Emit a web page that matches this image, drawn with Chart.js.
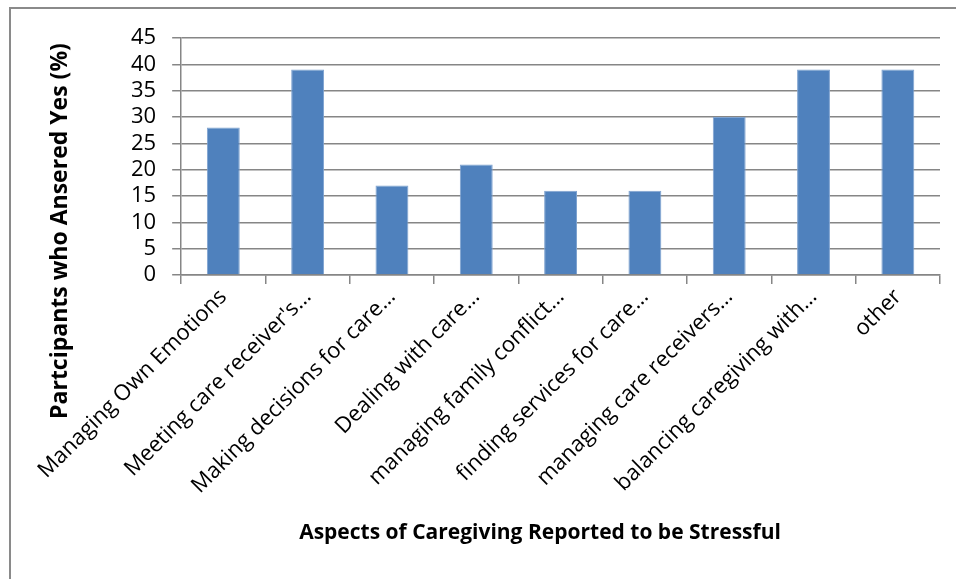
<!DOCTYPE html>
<html>
<head>
<meta charset="utf-8">
<script src="https://cdn.jsdelivr.net/npm/chart.js@4/dist/chart.umd.min.js"></script>
<style>
  html, body { margin: 0; padding: 0; background: #fff; }
  body { width: 956px; height: 579px; position: relative; overflow: hidden; }
  #frame { position: absolute; left: 9px; top: 7px; width: 960px; height: 600px;
           border-left: 2px solid #8a8a8a; border-top: 2px solid #8a8a8a; }
  #wrap { position: absolute; left: 0; top: 0; width: 956px; height: 579px; }
</style>
</head>
<body>
<div id="frame"></div>
<div id="wrap"><canvas id="c" width="956" height="579"></canvas></div>
<script>
const categories = [
  "Managing Own Emotions",
  "Meeting care receiver's…",
  "Making decisions for care…",
  "Dealing with care…",
  "managing family conflict…",
  "finding services for care…",
  "managing care receivers…",
  "balancing caregiving with…",
  "other"
];
const percentYes = [28, 39, 17, 21, 16, 16, 30, 39, 39];
const yTickMin = 0;
const yTickMax = 45;
const yTickStep = 5;
const xTitle = "Aspects of Caregiving Reported to be Stressful";
const yTitle = "Partcipants who Ansered Yes (%)";

const FONT = "'Open Sans', sans-serif";
const GRID = '#868686';

// Axis titles placed the way the original (Excel) chart places them
const axisTitles = {
  id: 'axisTitles',
  afterDraw(chart) {
    const ctx = chart.ctx;
    ctx.save();
    ctx.fillStyle = '#000';
    ctx.textAlign = 'center';
    ctx.textBaseline = 'middle';
    ctx.font = "bold 21px 'Open Sans', sans-serif";
    ctx.fillText(xTitle, 540, 533);
    ctx.translate(60, 231);
    ctx.rotate(-Math.PI / 2);
    ctx.font = "bold 23px 'Open Sans', sans-serif";
    ctx.fillText(yTitle, 0, 0);
    ctx.restore();
  }
};

new Chart(document.getElementById('c'), {
  type: 'bar',
  data: {
    labels: categories,
    datasets: [{
      data: percentYes,
      backgroundColor: '#4F81BD',
      borderColor: '#7FA3D0',
      borderWidth: 1,
      barPercentage: 0.39,
      categoryPercentage: 1.0
    }]
  },
  plugins: [axisTitles],
  options: {
    responsive: false,
    animation: false,
    devicePixelRatio: 1,
    layout: { padding: { left: 115, right: 16, top: 38, bottom: 80 } },
    plugins: { legend: { display: false }, tooltip: { enabled: false } },
    scales: {
      x: {
        offset: true,
        grid: { display: true, drawOnChartArea: false, drawTicks: true, tickLength: 9, color: GRID, lineWidth: 1.5, offset: true },
        border: { display: true, color: GRID, width: 1.5 },
        ticks: { color: '#000', font: { family: FONT, size: 22 }, minRotation: 45, maxRotation: 45, autoSkip: false, padding: 0 }
      },
      y: {
        min: yTickMin, max: yTickMax,
        grid: { color: GRID, lineWidth: 1.5, drawTicks: true, tickLength: 9 },
        border: { display: true, color: GRID, width: 1.5 },
        ticks: { stepSize: yTickStep, autoSkip: false, color: '#000', font: { family: FONT, size: 22, lineHeight: 1.0 }, padding: 16 }
      }
    }
  }
});
</script>
</body>
</html>
